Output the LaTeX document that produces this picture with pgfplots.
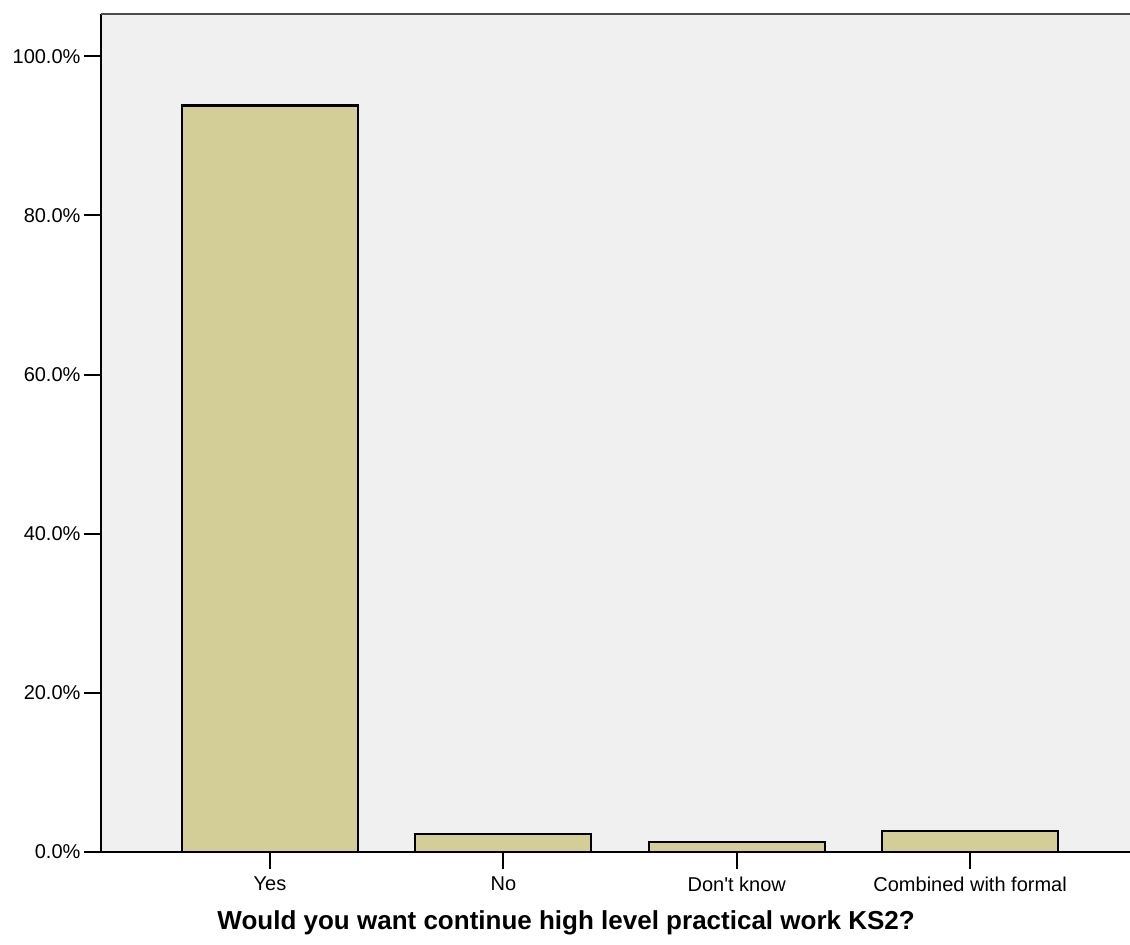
\documentclass[border=0pt]{standalone}
\usepackage{pgfplots}
\pgfplotsset{compat=1.18}
\usepackage{fontspec}
\newfontfamily\lsans{Liberation Sans}
\definecolor{bg}{HTML}{F0F0F0}
\definecolor{barc}{HTML}{D3CE98}
\begin{document}
\begin{tikzpicture}
\begin{axis}[
 scale only axis, width=1029pt, height=838pt,
 xmin=-0.724, xmax=3.685, ymin=0, ymax=105.3,
 axis x line*=bottom, axis y line*=left,
 axis line style={line width=2pt, black, -},
 axis background/.style={fill=bg},
 xtick={0,1,2,3},
 xticklabels={Yes,No,Don't know,Combined with formal},
 ytick={0,20,40,60,80,100},
 yticklabels={0.0\%,20.0\%,40.0\%,60.0\%,80.0\%,100.0\%},
 tick align=outside, major tick length=17pt,
 tick style={line width=2pt, black},
 tick label style={font=\lsans\fontsize{20}{24}\selectfont},
 xticklabel style={yshift=-4pt},
 xlabel={Would you want continue high level practical work KS2?},
 xlabel style={font=\lsans\bfseries\fontsize{26}{31}\selectfont, at={(axis description cs:0.452,-0.093)}, anchor=base},
]
\addplot[ybar, bar width=176pt, fill=barc, draw=black, line width=2.2pt] coordinates {(0,93.8) (1,2.3) (2,1.3) (3,2.6)};
\draw[line width=2pt, black!70] (rel axis cs:0,1) -- (rel axis cs:1,1);
\coordinate (sw) at (rel axis cs:0,0);
\coordinate (ne) at (rel axis cs:1,1);
\end{axis}
\pgfresetboundingbox
\path[use as bounding box] ([shift={(-101pt,-92pt)}]sw) rectangle ([shift={(0pt,14pt)}]ne);
\end{tikzpicture}
\end{document}
